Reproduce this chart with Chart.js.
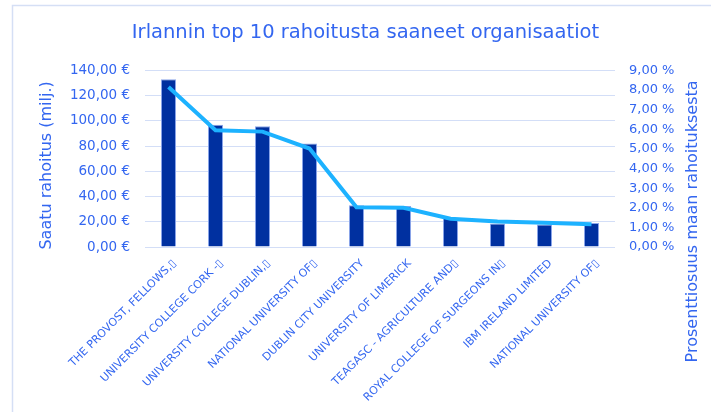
<!DOCTYPE html>
<html>
<head>
<meta charset="utf-8">
<script src="https://cdn.jsdelivr.net/npm/chart.js@4/dist/chart.umd.min.js"></script>
<style>
html,body{margin:0;padding:0;background:#fff;}
#wrap{width:711px;height:412px;}
</style>
</head>
<body>
<div id="wrap"><canvas id="c" width="711" height="412"></canvas></div>
<script>
const categories = [
  "THE PROVOST, FELLOWS,\u25AF",
  "UNIVERSITY COLLEGE CORK -\u25AF",
  "UNIVERSITY COLLEGE DUBLIN,\u25AF",
  "NATIONAL UNIVERSITY OF\u25AF",
  "DUBLIN CITY UNIVERSITY",
  "UNIVERSITY OF LIMERICK",
  "TEAGASC - AGRICULTURE AND\u25AF",
  "ROYAL COLLEGE OF SURGEONS IN\u25AF",
  "IBM IRELAND LIMITED",
  "NATIONAL UNIVERSITY OF\u25AF"
];
const funding = [133, 97, 95.8, 82, 33, 32.5, 23.2, 18.7, 17.9, 19];
const share = [8.15, 5.95, 5.88, 5.02, 2.03, 2.0, 1.44, 1.30, 1.24, 1.16];
const leftTicks = [0, 20, 40, 60, 80, 100, 120, 140];
const rightTicks = [0, 1, 2, 3, 4, 5, 6, 7, 8, 9];
const titleText = "Irlannin top 10 rahoitusta saaneet organisaatiot";
const leftTitle = "Saatu rahoitus (milj.)";
const rightTitle = "Prosenttiosuus maan rahoituksesta";

const TXT = '#3366F0';
const FONT = "'DejaVu Sans', sans-serif";

const framePlugin = {
  id: 'frame',
  beforeDraw(chart) {
    const ctx = chart.ctx;
    ctx.save();
    ctx.fillStyle = '#fff';
    ctx.fillRect(0, 0, chart.width, chart.height);
    ctx.strokeStyle = '#D5DFF5';
    ctx.lineWidth = 1.5;
    ctx.strokeRect(12.5, 5.5, 740, 440);
    ctx.restore();
  },
  afterDraw(chart) {
    const ctx = chart.ctx;
    const a = chart.chartArea;
    ctx.save();
    ctx.fillStyle = TXT;
    ctx.font = "16px " + FONT;
    ctx.textAlign = 'center';
    ctx.textBaseline = 'middle';
    ctx.save();
    ctx.translate(a.right + 78, a.top + 151);
    ctx.rotate(-Math.PI / 2);
    ctx.fillText(rightTitle, 0, 0);
    ctx.restore();
    ctx.save();
    ctx.translate(a.left - 98, a.top + 95);
    ctx.rotate(-Math.PI / 2);
    ctx.fillText(leftTitle, 0, 0);
    ctx.restore();
    ctx.restore();
  }
};

new Chart(document.getElementById('c'), {
  data: {
    labels: categories,
    datasets: [
      {
        type: 'line',
        data: share,
        yAxisID: 'y1',
        borderColor: '#1DB2FF',
        borderWidth: 4,
        pointRadius: 0,
        tension: 0,
        order: 0
      },
      {
        type: 'bar',
        data: funding,
        yAxisID: 'y',
        backgroundColor: '#0030A0',
        borderColor: '#8CA6EA',
        borderWidth: 1,
        barPercentage: 0.64,
        categoryPercentage: 0.5,
        order: 1
      }
    ]
  },
  options: {
    responsive: false,
    animation: false,
    layout: { padding: { left: 20, right: 0, top: 0, bottom: 0 } },
    plugins: {
      legend: { display: false },
      tooltip: { enabled: false },
      title: {
        display: true,
        text: titleText,
        color: TXT,
        font: { family: FONT, size: 19.5, weight: 'normal' },
        padding: { top: 21, bottom: 26 }
      }
    },
    scales: {
      x: {
        grid: { display: false },
        border: { display: false },
        ticks: {
          color: TXT,
          font: { family: FONT, size: 11 },
          maxRotation: 45,
          minRotation: 45,
          autoSkip: false,
          padding: 2,
          labelOffset: 6
        },
        afterFit(s) { s.height = 165; }
      },
      y: {
        position: 'left',
        min: 0,
        max: 140,
        afterBuildTicks(s) { s.ticks = leftTicks.map(v => ({ value: v })); },
        grid: { color: '#D3DEF7', lineWidth: 1, drawTicks: false },
        border: { display: false },
        ticks: {
          color: TXT,
          font: { family: FONT, size: 13.5 },
          padding: 15,
          callback: v => v.toFixed(2).replace('.', ',') + ' \u20AC'
        },
        afterFit(s) { s.width = 125; }
      },
      y1: {
        position: 'right',
        min: 0,
        max: 9,
        afterBuildTicks(s) { s.ticks = rightTicks.map(v => ({ value: v })); },
        grid: { display: false, drawTicks: false },
        border: { display: false },
        ticks: {
          color: TXT,
          font: { family: FONT, size: 13 },
          padding: 14,
          callback: v => v.toFixed(2).replace('.', ',') + ' %'
        },
        afterFit(s) { s.width = 96; }
      }
    }
  },
  plugins: [framePlugin]
});
</script>
</body>
</html>
